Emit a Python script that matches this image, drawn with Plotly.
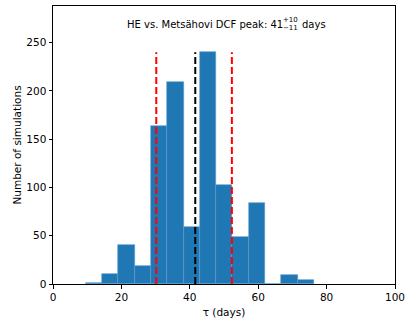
import plotly.graph_objects as go

# Histogram data (bin edges in days, counts per bin)
bin_edges = [9.6, 14.37, 19.13, 23.9, 28.66, 33.42, 38.19, 42.95, 47.72, 52.48, 57.25, 62.01, 66.78, 71.54, 76.3]
counts = [1, 10, 40, 19, 164, 209, 59, 240, 103, 49, 84, 0, 9, 4]

peak = 41.6
lower = 30.2
upper = 52.3

x_ticks = [0, 20, 40, 60, 80, 100]
y_ticks = [0, 50, 100, 150, 200, 250]

centers = [(bin_edges[i] + bin_edges[i + 1]) / 2 for i in range(len(counts))]
widths = [bin_edges[i + 1] - bin_edges[i] for i in range(len(counts))]
ymax = max(counts)

FONT = "DejaVu Sans"

fig = go.Figure()
fig.add_trace(go.Bar(
    x=centers, y=counts, width=widths,
    marker=dict(color="#1f77b4", line=dict(color="#5b9bd0", width=0.6)),
    showlegend=False, hoverinfo="skip",
))
for xv, col in [(lower, "#ff0000"), (upper, "#ff0000"), (peak, "#000000")]:
    fig.add_trace(go.Scatter(
        x=[xv, xv], y=[0, ymax], mode="lines",
        line=dict(color=col, width=2, dash="7px,3px"),
        showlegend=False, hoverinfo="skip",
    ))

# Title pieces (stacked super/subscript)
tf = dict(family=FONT, size=10, color="black")
sf = dict(family=FONT, size=7, color="black")
fig.add_annotation(text="HE vs. Metsähovi DCF peak: 41", xref="paper", yref="paper",
                   x=0.679, y=0.934, xanchor="right", yanchor="middle", showarrow=False, font=tf)
fig.add_annotation(text="+10", xref="paper", yref="paper",
                   x=0.667, y=0.949, xanchor="left", yanchor="middle", showarrow=False, font=sf)
fig.add_annotation(text="−11", xref="paper", yref="paper",
                   x=0.667, y=0.921, xanchor="left", yanchor="middle", showarrow=False, font=sf)
fig.add_annotation(text="days", xref="paper", yref="paper",
                   x=0.722, y=0.934, xanchor="left", yanchor="middle", showarrow=False, font=tf)

axis_common = dict(
    showline=True, mirror=True, linecolor="black", linewidth=1,
    ticks="outside", ticklen=3.5, tickwidth=1, tickcolor="black",
    showgrid=False, zeroline=False, automargin=False,
    tickfont=dict(family=FONT, size=10.5, color="black"),
)
fig.update_xaxes(range=[0, 100], tickvals=x_ticks,
                 title=dict(text="τ (days)", font=dict(family=FONT, size=10.5, color="black"), standoff=6),
                 **axis_common)
fig.update_yaxes(range=[0, 1.2 * ymax], tickvals=y_ticks,
                 title=dict(text="Number of simulations", font=dict(family=FONT, size=10.5, color="black"), standoff=2),
                 **axis_common)

fig.update_layout(
    width=407, height=327,
    margin=dict(l=53, r=12, t=6, b=43),
    plot_bgcolor="white", paper_bgcolor="white",
    bargap=0,
    font=dict(family=FONT, size=10.5, color="black"),
)

fig.write_html("out.html", config={"displayModeBar": False},
               post_script="document.body.style.margin='0';document.body.style.overflow='hidden';")
